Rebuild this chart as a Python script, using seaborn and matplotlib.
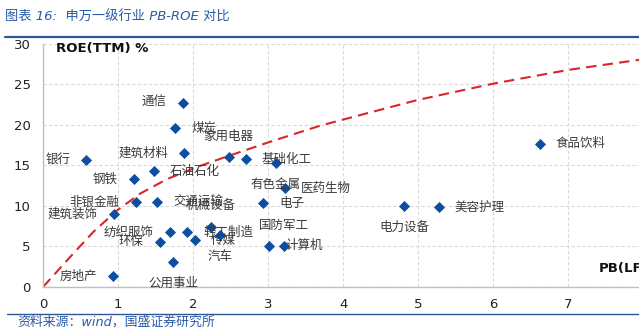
import matplotlib
matplotlib.use("Agg")
import matplotlib.pyplot as plt
import seaborn as sns
import pandas as pd
from matplotlib.lines import Line2D

# ---- data ----
industries = ["通信", "煤炭", "建筑材料", "银行", "家用电器", "基础化工", "有色金属",
              "医药生物", "石油石化", "钢铁", "非银金融", "交通运输", "电子", "建筑装饰",
              "纺织服饰", "环保", "机械设备", "轻工制造", "传媒", "汽车", "公用事业",
              "计算机", "国防军工", "房地产", "电力设备", "美容护理", "食品饮料"]
pb_lf = [1.86, 1.76, 1.88, 0.57, 2.47, 2.70, 3.10, 3.22, 1.47, 1.21, 1.23, 1.52, 2.93, 0.94,
         1.69, 1.55, 2.23, 1.92, 2.02, 2.36, 1.73, 3.01, 3.21, 0.93, 4.81, 5.27, 6.62]
roe_ttm = [22.75, 19.65, 16.55, 15.65, 16.0, 15.75, 15.25, 12.15, 14.3, 13.3, 10.43, 10.43,
           10.3, 9.0, 6.7, 5.56, 7.42, 6.76, 5.77, 6.39, 3.07, 5.07, 5.03, 1.32, 9.97, 9.81, 17.64]
label_side = ["l", "r", "l", "l", "a", "r", "b", "r", "r", "l", "l", "r", "r", "l",
              "l", "l", "a", "r", "r", "b", "b", "r", "a", "l", "b", "r", "r"]

# reference curve
curve_pb = [0, 0.40, 0.67, 0.98, 1.29, 1.65, 2.05, 2.45, 3.02, 3.69, 4.3, 5.0, 6.0, 7.0, 7.95]
curve_roe = [0, 4.1, 6.8, 9.4, 11.5, 13.3, 14.8, 16.1, 17.9, 19.9, 21.4, 23.1, 25.1, 26.8, 28.05]

x_ticks = [0, 1, 2, 3, 4, 5, 6, 7]
y_ticks = [0, 5, 10, 15, 20, 25, 30]

title = "图表 16:  申万一级行业 PB-ROE 对比"
source = "资料来源：wind，国盛证券研究所"

# ---- style ----
sns.set_theme(style="white")
plt.rcParams["font.family"] = ["DejaVu Sans", "Noto Sans CJK SC"]
CJK = ["Noto Sans CJK SC", "DejaVu Sans"]
MIX = ["DejaVu Sans", "Noto Sans CJK SC"]

BLUE = "#0B4EA2"
TITLE_BLUE = "#2A5BA8"
RED = "#D7262C"

W, H = 639, 335
fig = plt.figure(figsize=(W / 100, H / 100), dpi=100)
x0, y0 = 43.3, 286.7
px_x, px_y = 75.0, 8.09
ax = fig.add_axes([x0 / W, (H - y0) / H, 8 * px_x / W, 30 * px_y / H])

df = pd.DataFrame({"industry": industries, "pb": pb_lf, "roe": roe_ttm, "side": label_side})
curve = pd.DataFrame({"pb": curve_pb, "roe": curve_roe})

sns.lineplot(data=curve, x="pb", y="roe", ax=ax, color=RED, lw=1.5,
             linestyle=(0, (5, 3)), estimator=None, sort=False, zorder=2)
sns.scatterplot(data=df, x="pb", y="roe", ax=ax, marker="D", s=32, color=BLUE,
                linewidth=0, zorder=3)

offsets = {"r": (16, 0, "left"), "l": (-16, 0, "right"),
           "a": (0, 21, "center"), "b": (0, -21, "center")}
for _, row in df.iterrows():
    dx, dy, ha = offsets[row["side"]]
    ax.annotate(row["industry"], (row["pb"], row["roe"]), xytext=(dx, dy),
                textcoords="offset pixels", ha=ha, va="center", fontsize=9,
                family=CJK, color="#3A3A3A", zorder=4)

ax.set_xlim(0, 8)
ax.set_ylim(0, 30)
ax.set_xticks(x_ticks)
ax.set_yticks(y_ticks)
ax.tick_params(axis="both", length=0, labelsize=9.5, colors="#222222")
ax.tick_params(axis="y", pad=9)
ax.tick_params(axis="x", pad=8)
ax.set_xlabel("")
ax.set_ylabel("")
ax.grid(True, ls=(0, (3, 2)), color="#D9D9D9", lw=0.8)
ax.set_axisbelow(True)
for s in ["top", "right"]:
    ax.spines[s].set_visible(False)
for s in ["left", "bottom"]:
    ax.spines[s].set_color("#BFBFBF")
    ax.spines[s].set_linewidth(1.0)

ax.text(0.17, 29.4, "ROE(TTM) %", fontsize=9.5, fontweight="bold", ha="left",
        va="center", color="#111111")
ax.text(7.4, 2.3, "PB(LF)", fontsize=9.5, fontweight="bold", ha="left",
        va="center", color="#111111")

# header / footer
fig.text(5 / W, 1 - 17 / H, title, fontsize=9.5, style="italic", color=TITLE_BLUE,
         family=MIX, ha="left", va="center")
fig.add_artist(Line2D([5 / W, 1], [1 - 36.5 / H] * 2, transform=fig.transFigure,
                      color="#2F5597", lw=1.6))
fig.add_artist(Line2D([7 / W, 1], [1 - 313.5 / H] * 2, transform=fig.transFigure,
                      color="#2F5597", lw=1.0))
fig.text(17 / W, 1 - 322 / H, source, fontsize=9.3, style="italic", color=TITLE_BLUE,
         family=MIX, ha="left", va="center")

fig.savefig("out.png", dpi=100)
